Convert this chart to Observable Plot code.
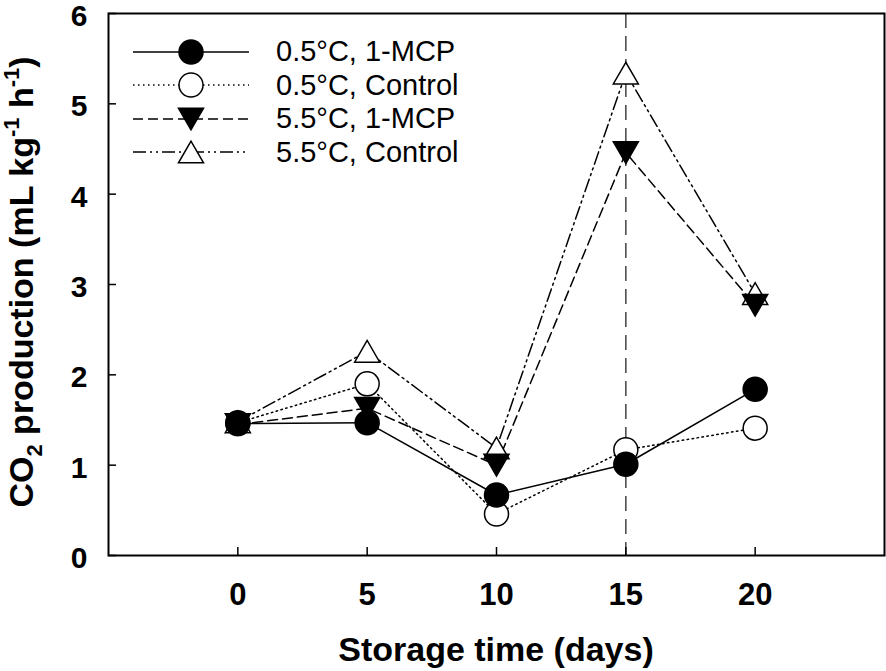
<!DOCTYPE html>
<html>
<head>
<meta charset="utf-8">
<script src="https://cdn.jsdelivr.net/npm/d3@7"></script>
<script src="https://cdn.jsdelivr.net/npm/@observablehq/plot@0.6"></script>
<style>
  body { margin: 0; background: #fff; }
  #wrap { position: relative; width: 886px; height: 671px; font-family: "Liberation Sans", Arial, sans-serif; }
  [aria-label$="tick label"] { font-weight: bold; }
  #legend { position: absolute; left: 133px; top: 35px; font-size: 29px; color: #000; }
  #legend .row { display: flex; align-items: center; height: 33.5px; }
  #legend svg { width: 116px; height: 34px; display: block; }
  #legend span { margin-left: 27px; line-height: 1; }
</style>
</head>
<body>
<div id="wrap"></div>
<script>
const days = [0, 5, 10, 15, 20];
const mcp05 = [1.46, 1.47, 0.67, 1.01, 1.84];
const ctl05 = [1.47, 1.90, 0.46, 1.17, 1.41];
const mcp55 = [1.45, 1.63, 1.00, 4.46, 2.77];
const ctl55 = [1.48, 2.26, 1.19, 5.34, 2.90];
const seriesNames = ["0.5°C, 1-MCP", "0.5°C, Control", "5.5°C, 1-MCP", "5.5°C, Control"];
const xTicks = [0, 5, 10, 15, 20];
const yTicks = [0, 1, 2, 3, 4, 5, 6];
const markDay = [15];

const values = [mcp05, ctl05, mcp55, ctl55];
const table = seriesNames.map((name, i) => days.map((d, j) => ({series: name, day: d, value: values[i][j]})));

function tri(down) {
  return {
    draw(context, size) {
      const w = Math.sqrt(size * 4 / Math.sqrt(3));
      const h = w * Math.sqrt(3) / 2;
      const s = down ? -1 : 1;
      context.moveTo(0, -s * h / 2);
      context.lineTo(-w / 2, s * h / 2);
      context.lineTo(w / 2, s * h / 2);
      context.closePath();
    }
  };
}
const triUp = tri(false), triDown = tri(true);

const styles = [
  {dash: null, symbol: "circle", fill: "black", r: 12},
  {dash: "1.5,3.5", symbol: "circle", fill: "white", r: 12},
  {dash: "10,5", symbol: triDown, fill: "black", r: 9.3},
  {dash: "13,4,2,4,2,4", symbol: triUp, fill: "white", r: 9.3}
];

const lineMarks = table.map((data, i) => Plot.line(data, {x: "day", y: "value", stroke: "black", strokeWidth: 1.5, strokeDasharray: styles[i].dash}));
const drawOrder = [3, 2, 1, 0];
const dotMarks = drawOrder.map(i => Plot.dot(table[i], {x: "day", y: "value", symbol: () => styles[i].symbol, r: styles[i].r, fill: styles[i].fill, stroke: "black", strokeWidth: 1.5}));

const chart = Plot.plot({
  width: 886,
  height: 671,
  marginLeft: 108,
  marginRight: 2,
  marginTop: 13,
  marginBottom: 116,
  style: {fontFamily: "'Liberation Sans', Arial, sans-serif", fontSize: "30px", background: "white", overflow: "visible"},
  x: {domain: [-5, 25]},
  y: {domain: [0, 6]},
  symbol: {type: "identity"},
  marks: [
    Plot.ruleX(markDay, {stroke: "#444", strokeWidth: 1.5, strokeDasharray: "15,8"}),
    ...lineMarks,
    ...dotMarks,
    Plot.frame({stroke: "black", strokeWidth: 2}),
    Plot.axisX({ticks: xTicks, tickSize: -8, tickPadding: 35, tickFormat: d => String(d), fontSize: 31, fontWeight: "bold", label: null, strokeWidth: 1.5}),
    Plot.axisY({ticks: yTicks, tickSize: -8, tickFormat: () => "", label: null, strokeWidth: 1.5}),
    Plot.axisY({ticks: yTicks, tickSize: 0, tickPadding: 21, tickFormat: d => String(d), fontSize: 30, fontWeight: "bold", label: null, dy: 3})
  ]
});

const wrap = document.getElementById("wrap");
wrap.appendChild(chart);

const svg = d3.select(chart);
svg.append("text")
  .attr("x", 496).attr("y", 661)
  .attr("text-anchor", "middle")
  .attr("font-size", 34).attr("font-weight", "bold")
  .text("Storage time (days)");

const yl = svg.append("text")
  .attr("transform", "translate(33,282) rotate(-90)")
  .attr("text-anchor", "middle")
  .attr("font-size", 34).attr("font-weight", "bold");
yl.append("tspan").text("CO");
yl.append("tspan").attr("font-size", 22).attr("dy", 9).text("2");
yl.append("tspan").attr("dy", -9).text(" production (mL kg");
yl.append("tspan").attr("font-size", 22).attr("dy", -14).text("-1");
yl.append("tspan").attr("dy", 14).text(" h");
yl.append("tspan").attr("font-size", 22).attr("dy", -14).text("-1");
yl.append("tspan").attr("dy", 14).text(")");

// legend
const legend = d3.select(wrap).append("div").attr("id", "legend");
seriesNames.forEach((name, i) => {
  const row = legend.append("div").attr("class", "row");
  const s = row.append("svg").attr("viewBox", "0 0 116 34");
  s.append("line").attr("x1", 0).attr("x2", 116).attr("y1", 17).attr("y2", 17)
    .attr("stroke", "black").attr("stroke-width", 1.5)
    .attr("stroke-dasharray", styles[i].dash);
  const st = styles[i];
  const sym = typeof st.symbol === "string" ? d3.symbolCircle : st.symbol;
  s.append("path").attr("transform", "translate(58,17)")
    .attr("d", d3.symbol(sym, Math.PI * st.r * st.r)())
    .attr("fill", st.fill).attr("stroke", "black").attr("stroke-width", 1.5);
  row.append("span").text(name);
});
</script>
</body>
</html>
